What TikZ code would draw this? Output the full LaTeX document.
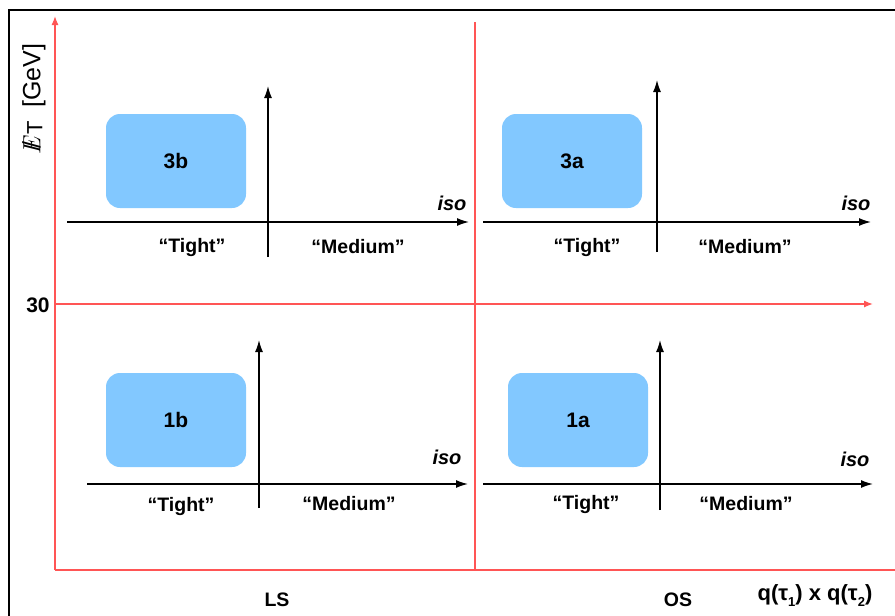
\documentclass[tikz,border=0pt]{standalone}
\usepackage{fontspec}
\setmainfont{Liberation Sans}
\usetikzlibrary{arrows.meta}
\definecolor{redline}{RGB}{255,85,85}
\definecolor{boxblue}{RGB}{130,200,255}
\tikzset{
  redax/.style={draw=redline, line width=1.3pt},
  redtip/.style={-{Latex[length=9pt,width=7pt]}},
  blackax/.style={draw=black, line width=1.4pt, -{Latex[length=12pt,width=8pt]}},
  region/.style={fill=boxblue, rounded corners=14pt, minimum width=140pt, minimum height=94pt, inner sep=0pt, font=\fontsize{21}{24}\selectfont\bfseries},
  lbl/.style={font=\fontsize{19.5}{22}\selectfont\bfseries, inner sep=0pt},
  isolbl/.style={font=\fontsize{20}{22}\selectfont\bfseries\itshape, inner sep=0pt}
}
\begin{document}
\begin{tikzpicture}[x=1pt,y=-1pt]
\useasboundingbox (0,0) rectangle (895,616);
\fill[white] (0,0) rectangle (895,616);
% frame
\coordinate (fb) at (9,616);
\coordinate (fc) at (9,10);
\coordinate (fr) at (895,10);
\draw[line width=2.4pt] (fb) -- (fc) -- (fr);
% red axes
\coordinate (o) at (55,570);
\coordinate (ytop) at (55,16);
\coordinate (xend) at (895,570);
\coordinate (mtop) at (475,22);
\coordinate (mbot) at (475,570);
\coordinate (hl) at (55,304);
\coordinate (hr) at (873,304);
\draw[redax, redtip] (o) -- (ytop);
\draw[redax] (o) -- (xend);
\draw[redax] (mbot) -- (mtop);
\draw[redax, redtip] (hl) -- (hr);
% axis labels
\node[rotate=90, inner sep=0pt, font=\fontsize{25}{28}\selectfont] (ylab) at (34,99) {$\rlap{\kern0.25em/}E$\raisebox{-2pt}{\fontsize{22}{24}\selectfont\rmfamily T}\ \ [GeV]};
\node[lbl, font=\fontsize{21}{24}\selectfont\bfseries] (thirty) at (38,305) {30};
\node[lbl] (ls) at (277,600) {LS};
\node[lbl] (os) at (678,600) {OS};
\node[lbl, font=\fontsize{22}{24}\selectfont\bfseries] (q) at (815,596) {q(τ\raisebox{-6pt}{\fontsize{13}{14}\selectfont 1}) x q(τ\raisebox{-6pt}{\fontsize{13}{14}\selectfont 2})};
% top-left quadrant
\coordinate (a1) at (67,222); \coordinate (a2) at (469,222);
\coordinate (a3) at (268,257); \coordinate (a4) at (268,86);
\draw[blackax] (a1) -- (a2);
\draw[blackax] (a3) -- (a4);
\node[region] (b3b) at (176,161) {3b};
\node[lbl] (t3b) at (192,247) {“Tight”};
\node[lbl] (m3b) at (358,247) {“Medium”};
\node[isolbl] (i3b) at (452,203) {iso};
% top-right quadrant
\coordinate (c1) at (483,222); \coordinate (c2) at (871,222);
\coordinate (c3) at (657,252); \coordinate (c4) at (657,80);
\draw[blackax] (c1) -- (c2);
\draw[blackax] (c3) -- (c4);
\node[region] (b3a) at (572,161) {3a};
\node[lbl] (t3a) at (587,247) {“Tight”};
\node[lbl] (m3a) at (745,247) {“Medium”};
\node[isolbl] (i3a) at (856,203) {iso};
% bottom-left quadrant
\coordinate (d1) at (87,484); \coordinate (d2) at (468,484);
\coordinate (d3) at (259,508); \coordinate (d4) at (259,340);
\draw[blackax] (d1) -- (d2);
\draw[blackax] (d3) -- (d4);
\node[region] (b1b) at (176,420) {1b};
\node[lbl] (t1b) at (181,506) {“Tight”};
\node[lbl] (m1b) at (349,504) {“Medium”};
\node[isolbl] (i1b) at (447,457) {iso};
% bottom-right quadrant
\coordinate (e1) at (483,484); \coordinate (e2) at (873,484);
\coordinate (e3) at (660,510); \coordinate (e4) at (660,340);
\draw[blackax] (e1) -- (e2);
\draw[blackax] (e3) -- (e4);
\node[region] (b1a) at (578,420) {1a};
\node[lbl] (t1a) at (586,504) {“Tight”};
\node[lbl] (m1a) at (746,504) {“Medium”};
\node[isolbl] (i1a) at (855,459) {iso};
\end{tikzpicture}
\end{document}
